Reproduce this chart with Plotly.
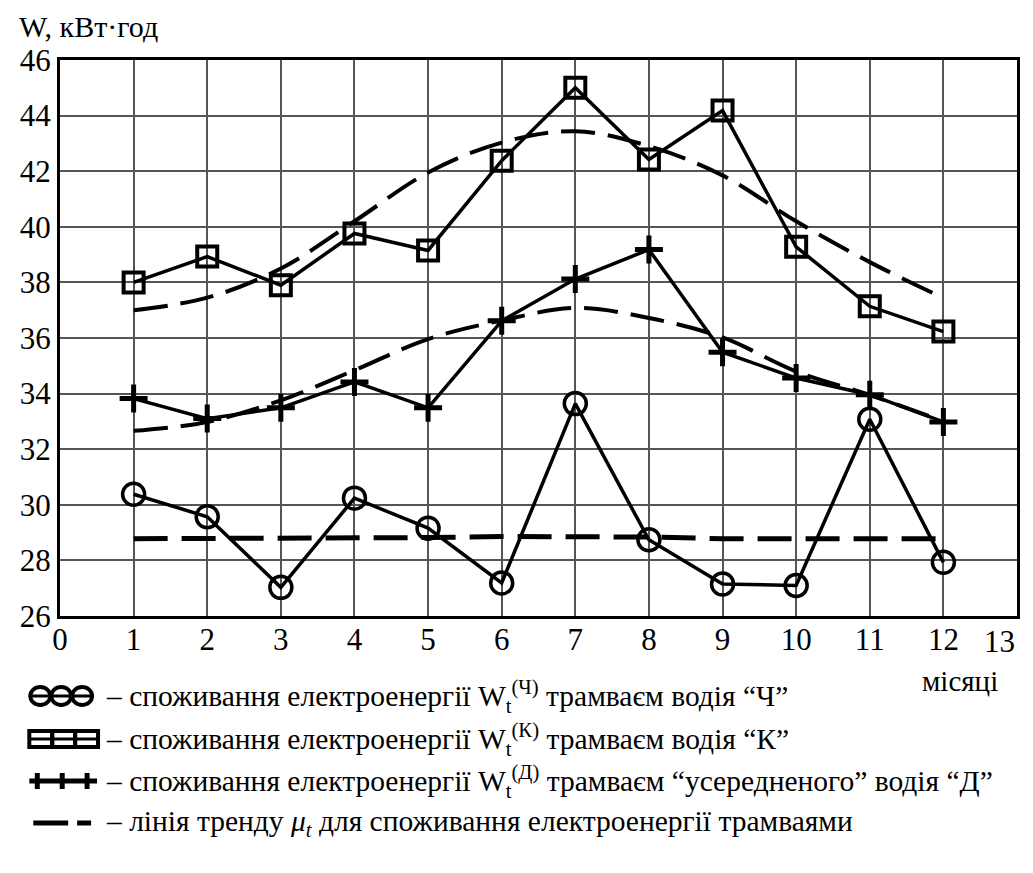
import plotly.graph_objects as go

months = [1, 2, 3, 4, 5, 6, 7, 8, 9, 10, 11, 12]
w_ch = [30.38, 29.57, 27.03, 30.24, 29.16, 27.19, 33.64, 28.74, 27.15, 27.10, 33.08, 27.93]
w_k = [38.0, 38.93, 37.9, 39.76, 39.15, 42.38, 45.0, 42.42, 44.18, 39.28, 37.14, 36.23]
w_d = [33.82, 33.10, 33.49, 34.42, 33.49, 36.62, 38.12, 39.18, 35.49, 34.56, 33.96, 32.98]
trend_ch = [28.78, 28.78, 28.78, 28.78, 28.82, 28.86, 28.86, 28.84, 28.78, 28.78, 28.78, 28.78]
trend_k = [37.0, 37.45, 38.5, 40.2, 41.95, 43.03, 43.44, 42.9, 41.85, 40.2, 38.73, 37.44]
trend_d = [32.66, 32.98, 33.76, 34.84, 35.96, 36.63, 37.08, 36.72, 36.02, 34.8, 33.95, 33.0]

x_ticks = list(range(0, 14))
y_ticks = list(range(26, 47, 2))

legend_texts = [
    "– споживання електроенергії W<sub>t</sub><sup>(Ч)</sup> трамваєм водія “Ч”",
    "– споживання електроенергії W<sub>t</sub><sup>(К)</sup> трамваєм водія “К”",
    "– споживання електроенергії W<sub>t</sub><sup>(Д)</sup> трамваєм “усередненого” водія “Д”",
    "– лінія тренду <i>μ<sub>t</sub></i> для споживання електроенергії трамваями",
]

FONT = "Times New Roman"
W, H = 1033, 873
L, R, T, B = 48.8, 1009.5, 52, 608

def px(x):
    return (x - L) / (R - L)

def py(y):
    return (B - y) / (B - T)

fig = go.Figure()

for tr in [trend_k, trend_d]:
    fig.add_trace(go.Scatter(x=months, y=tr, mode="lines", line_shape="spline",
                             line=dict(color="black", width=4, dash="34px,13px"),
                             showlegend=False))
fig.add_trace(go.Scatter(x=months, y=trend_ch, mode="lines",
                         line=dict(color="black", width=5, dash="34px,14px"),
                         showlegend=False))

fig.add_trace(go.Scatter(x=months, y=w_k, mode="lines+markers",
                         line=dict(color="black", width=3.5),
                         marker=dict(symbol="square-open", size=20, color="black",
                                     line=dict(width=4, color="black")),
                         showlegend=False))
fig.add_trace(go.Scatter(x=months, y=w_d, mode="lines+markers",
                         line=dict(color="black", width=3.5),
                         marker=dict(symbol="cross-thin", size=20, color="black",
                                     line=dict(width=5, color="black")),
                         showlegend=False))
fig.add_trace(go.Scatter(x=months, y=w_ch, mode="lines+markers",
                         line=dict(color="black", width=3.5),
                         marker=dict(symbol="circle-open", size=22, color="black",
                                     line=dict(width=3.5, color="black")),
                         showlegend=False))

shapes = []
r1, r2, r3, r4 = 688, 731, 773, 815
for cx in [29, 50, 71]:
    shapes.append(dict(type="circle", xref="paper", yref="paper",
                       x0=px(cx - 10), x1=px(cx + 10), y0=py(r1 + 9), y1=py(r1 - 9),
                       line=dict(color="black", width=4)))
shapes.append(dict(type="line", xref="paper", yref="paper",
                   x0=px(19), x1=px(81), y0=py(r1), y1=py(r1), line=dict(color="black", width=3)))
for x0 in [18, 41, 64]:
    shapes.append(dict(type="rect", xref="paper", yref="paper",
                       x0=px(x0), x1=px(x0 + 23), y0=py(r2 + 8), y1=py(r2 - 8),
                       line=dict(color="black", width=4)))
shapes.append(dict(type="line", xref="paper", yref="paper",
                   x0=px(18), x1=px(87), y0=py(r2), y1=py(r2), line=dict(color="black", width=3)))
shapes.append(dict(type="line", xref="paper", yref="paper",
                   x0=px(18), x1=px(86), y0=py(r3), y1=py(r3), line=dict(color="black", width=5)))
for cx in [26, 51, 76]:
    shapes.append(dict(type="line", xref="paper", yref="paper",
                       x0=px(cx), x1=px(cx), y0=py(r3 + 8), y1=py(r3 - 8),
                       line=dict(color="black", width=5)))
shapes.append(dict(type="line", xref="paper", yref="paper",
                   x0=px(22), x1=px(57), y0=py(r4), y1=py(r4), line=dict(color="black", width=5)))
shapes.append(dict(type="line", xref="paper", yref="paper",
                   x0=px(66), x1=px(80), y0=py(r4), y1=py(r4), line=dict(color="black", width=5)))

annotations = []
for txt, yy in zip(legend_texts, [r1, r2, r3, r4]):
    annotations.append(dict(text=txt, xref="paper", yref="paper", x=px(93), y=py(yy),
                            xanchor="left", yanchor="middle", showarrow=False,
                            font=dict(family=FONT, size=29.5, color="black")))
annotations.append(dict(text="W, кВт·год", xref="paper", yref="paper", x=px(6), y=py(19),
                        xanchor="left", yanchor="middle", showarrow=False,
                        font=dict(family=FONT, size=30, color="black")))
annotations.append(dict(text="місяці", xref="paper", yref="paper", x=px(992), y=py(673),
                        xanchor="right", yanchor="middle", showarrow=False,
                        font=dict(family=FONT, size=29, color="black")))
annotations.append(dict(text="13", xref="x", yref="paper", x=13, y=py(614),
                        xanchor="right", yanchor="top", showarrow=False,
                        font=dict(family=FONT, size=31, color="black")))

x_text = [str(v) if v != 13 else "" for v in x_ticks]

fig.update_layout(
    width=W, height=H,
    margin=dict(l=L, r=W - R, t=T, b=H - B),
    plot_bgcolor="white", paper_bgcolor="white",
    shapes=shapes, annotations=annotations,
    font=dict(family=FONT, color="black"),
)
fig.update_xaxes(range=[0, 13], tickvals=x_ticks, ticktext=x_text,
                 showgrid=True, gridcolor="#555", gridwidth=1.5,
                 showline=True, linecolor="black", linewidth=3, mirror=True,
                 ticks="", zeroline=False, ticklabelstandoff=-6,
                 tickfont=dict(family=FONT, size=31, color="black"))
fig.update_yaxes(range=[26, 46], tickvals=y_ticks, ticktext=[str(v) for v in y_ticks],
                 showgrid=True, gridcolor="#555", gridwidth=1.5,
                 showline=True, linecolor="black", linewidth=3, mirror=True,
                 ticks="", zeroline=False,
                 tickfont=dict(family=FONT, size=31, color="black"))

fig.write_html("out.html")
